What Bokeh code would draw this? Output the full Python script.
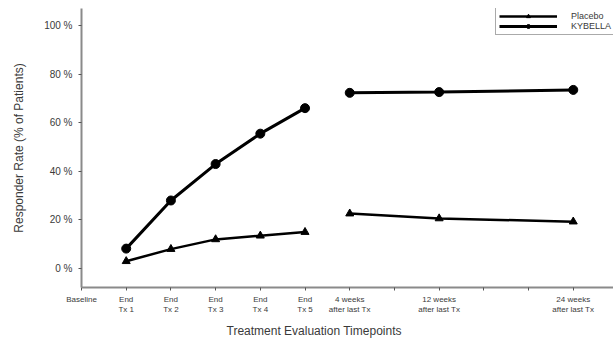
from bokeh.plotting import figure
from bokeh.models import (Range1d, FixedTicker, Legend, LegendItem, Title)
from bokeh.embed import file_html
from bokeh.resources import INLINE

# ---- data ----
tick_positions = [0, 1, 2, 3, 4, 5, 6, 7, 8, 9, 10, 11]
tick_labels = ["Baseline", "End\nTx 1", "End\nTx 2", "End\nTx 3", "End\nTx 4", "End\nTx 5",
               "4 weeks\nafter last Tx", "", "12 weeks\nafter last Tx", "", "", "24 weeks\nafter last Tx"]
treat_x = [1, 2, 3, 4, 5]
follow_x = [6, 8, 11]
kybella_treat = [8.2, 28.0, 43.0, 55.5, 66.0]
kybella_follow = [72.3, 72.6, 73.5]
placebo_treat = [3.0, 8.0, 12.0, 13.5, 15.0]
placebo_follow = [22.6, 20.6, 19.3]
y_ticks = [0, 20, 40, 60, 80, 100]
y_tick_labels = ["0 %", "20 %", "40 %", "60 %", "80 %", "100 %"]

FONT = "Liberation Sans"
TXT = "#3a3a3a"
AX = "#8a8a8a"

p = figure(width=613, height=351, output_backend="svg", toolbar_location=None,
           x_range=Range1d(0, 11.9), y_range=Range1d(-7.8, 107),
           min_border_left=81, min_border_right=0, min_border_top=8, min_border_bottom=64)
p.outline_line_color = None
p.grid.visible = False
p.background_fill_color = "white"

# lines and markers
r_k1 = p.line(treat_x, kybella_treat, line_color="black", line_width=3)
r_k2 = p.line(follow_x, kybella_follow, line_color="black", line_width=3)
r_km1 = p.scatter(treat_x, kybella_treat, marker="circle", size=9, color="black")
r_km2 = p.scatter(follow_x, kybella_follow, marker="circle", size=9, color="black")
r_p1 = p.line(treat_x, placebo_treat, line_color="black", line_width=2.5)
r_p2 = p.line(follow_x, placebo_follow, line_color="black", line_width=2.5)
r_pm1 = p.scatter(treat_x, placebo_treat, marker="triangle", size=8, color="black")
r_pm2 = p.scatter(follow_x, placebo_follow, marker="triangle", size=8, color="black")

# axes
p.xaxis.ticker = FixedTicker(ticks=tick_positions)
p.xaxis.major_label_overrides = {t: l for t, l in zip(tick_positions, tick_labels)}
p.yaxis.ticker = FixedTicker(ticks=y_ticks)
p.yaxis.major_label_overrides = {t: l for t, l in zip(y_ticks, y_tick_labels)}
for ax in (p.xaxis, p.yaxis):
    ax.axis_line_color = AX
    ax.axis_line_width = 2
    ax.major_tick_line_color = "#555555"
    ax.major_tick_in = 0
    ax.major_tick_out = 3
    ax.minor_tick_line_color = None
    ax.major_label_text_font = FONT
    ax.major_label_text_color = TXT
p.xaxis.major_label_text_font_size = "8px"
p.xaxis.major_label_standoff = 4
p.yaxis.major_label_text_font_size = "10px"
p.yaxis.major_label_standoff = 6

p.yaxis.axis_label = "Responder Rate (% of Patients)"
p.yaxis.axis_label_text_font = FONT
p.yaxis.axis_label_text_font_size = "12px"
p.yaxis.axis_label_text_font_style = "normal"
p.yaxis.axis_label_text_color = TXT
p.yaxis.axis_label_standoff = 15

xtitle = Title(text="Treatment Evaluation Timepoints", align="left", offset=226 - 81,
               text_font=FONT, text_font_size="12px", text_font_style="normal",
               text_color=TXT, standoff=8)
p.add_layout(xtitle, "below")

legend = Legend(items=[LegendItem(label="Placebo", renderers=[r_p1, r_pm1]),
                       LegendItem(label="KYBELLA", renderers=[r_k1, r_km1])],
                location=(414, 252), glyph_width=58, glyph_height=10, label_height=10,
                label_text_font=FONT, label_text_font_size="9px", label_text_color=TXT,
                label_width=70, padding=3, spacing=0, margin=0, label_standoff=14,
                border_line_color="#555555", border_line_width=1.5,
                background_fill_color="white")
p.add_layout(legend)

open("out.html", "w").write(file_html(p, INLINE))
